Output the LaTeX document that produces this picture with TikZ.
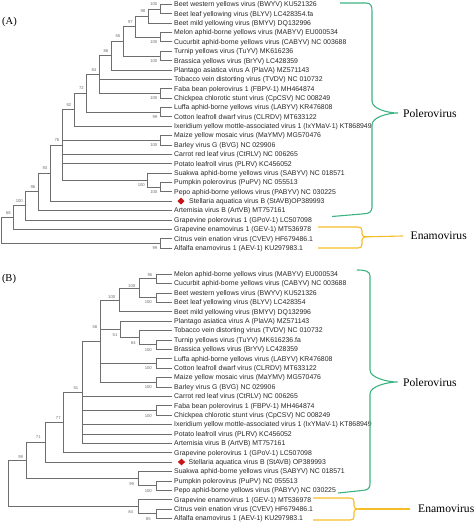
\documentclass[tikz,border=0pt]{standalone}
\usepackage{fontspec}
\setmainfont{Liberation Serif}
\newfontfamily\arialf{Liberation Sans}
\usetikzlibrary{calc,shapes.geometric}
\definecolor{brc}{RGB}{110,110,110}
\definecolor{txc}{RGB}{40,40,40}
\definecolor{pgreen}{RGB}{60,180,130}
\definecolor{eyel}{RGB}{245,190,40}
\definecolor{dred}{RGB}{200,20,20}
\tikzset{
 br/.style={draw=brc, line width=0.6pt, line cap=rect},
 leaf/.style={anchor=west, inner sep=0pt, text height=5pt, text depth=0pt, font=\arialf\fontsize{6.9}{8}\selectfont, text=txc},
 bs/.style={inner sep=0pt, font=\arialf\fontsize{4.2}{5}\selectfont, text=brc},
 cladename/.style={font=\fontsize{11.6}{13}\selectfont, anchor=west, inner sep=0pt},
 panel/.style={font=\fontsize{10.5}{12}\selectfont, inner sep=0pt},
 redmk/.style={diamond, fill=dred, minimum width=7.3pt, minimum height=7pt, inner sep=0pt},
 gbrace/.style={draw=pgreen, line width=1.1pt},
 ybrace/.style={draw=eyel, line width=1.1pt}
}
\newcommand\lf[3]{\coordinate (#1) at (172,#2); \node[leaf] (t#1) at (174,#2) {#3};}
\newcommand\mkclade[5]{%
  \path let \p1=($(#3)!.5!(#4)$) in (#2pt,\y1) coordinate (#1);
  \draw[br] (#1|-#3) -- (#1|-#4);
  \foreach \kid in {#5}{\draw[br] (#1|-\kid) -- (\kid);}}
\newcommand\bsa[2]{\node[bs,anchor=east] (bs-#1) at ([xshift=-2.5pt,yshift=4.8pt]#1) {#2};}
\newcommand\bsb[2]{\node[bs,anchor=east] (bs-#1) at ([xshift=-2.5pt,yshift=-4.8pt]#1) {#2};}
\begin{document}
\begin{tikzpicture}[x=1pt,y=-1pt]
\fill[white] (0,0) rectangle (474,523);
\useasboundingbox (0,0) rectangle (474,523);
% ---------------- (A) ----------------
\node[panel] (pA) at (9.5,22) {(A)};
\lf{la1}{4.30}{Beet western yellows virus (BWYV) KU521326}
\lf{la2}{13.67}{Beet leaf yellowing virus (BLYV) LC428354.fa}
\lf{la3}{23.04}{Beet mild yellowing virus (BMYV) DQ132996}
\lf{la4}{32.41}{Melon aphid-borne yellows virus (MABYV) EU000534}
\lf{la5}{41.78}{Cucurbit aphid-borne yellows virus (CABYV) NC 003688}
\lf{la6}{51.15}{Turnip yellows virus (TuYV) MK616236}
\lf{la7}{60.52}{Brassica yellows virus (BrYV) LC428359}
\lf{la8}{69.89}{Plantago asiatica virus A (PlaVA) MZ571143}
\lf{la9}{79.26}{Tobacco vein distorting virus (TVDV) NC 010732}
\lf{la10}{88.63}{Faba bean polerovirus 1 (FBPV-1) MH464874}
\lf{la11}{98.00}{Chickpea chlorotic stunt virus (CpCSV) NC 008249}
\lf{la12}{107.37}{Luffa aphid-borne yellows virus (LABYV) KR476808}
\lf{la13}{116.74}{Cotton leafroll dwarf virus (CLRDV) MT633122}
\lf{la14}{126.11}{Ixeridium yellow mottle-associated virus 1 (IxYMaV-1) KT868949}
\lf{la15}{135.48}{Maize yellow mosaic virus (MaYMV) MG570476}
\lf{la16}{144.85}{Barley virus G (BVG) NC 029906}
\lf{la17}{154.22}{Carrot red leaf virus (CtRLV) NC 006265}
\lf{la18}{163.59}{Potato leafroll virus (PLRV) KC456052}
\lf{la19}{172.96}{Suakwa aphid-borne yellows virus (SABYV) NC 018571}
\lf{la20}{182.33}{Pumpkin polerovirus (PuPV) NC 055513}
\lf{la21}{191.70}{Pepo aphid-borne yellows virus (PABYV) NC 030225}
\coordinate (la22) at (172,201.07);
\node[redmk] (dA) at (181,201.07) {};
\node[leaf] (tla22) at (189,201.07) {Stellaria aquatica virus B (StAVB)OP389993};
\lf{la23}{210.44}{Artemisia virus B (ArtVB) MT757161}
\lf{la24}{219.81}{Grapevine polerovirus 1 (GPoV-1) LC507098}
\lf{la25}{229.18}{Grapevine enamovirus 1 (GEV-1) MT536978}
\lf{la26}{238.55}{Citrus vein enation virus (CVEV) HF679486.1}
\lf{la27}{247.92}{Alfalfa enamovirus 1 (AEV-1) KU297983.1}
\mkclade{na}{160}{la1}{la2}{la1,la2}
\mkclade{nb}{148}{na}{la3}{na,la3}
\mkclade{nc}{160}{la4}{la5}{la4,la5}
\mkclade{nd}{135.5}{nb}{nc}{nb,nc}
\mkclade{ne}{160}{la6}{la7}{la6,la7}
\mkclade{nf}{123}{nd}{ne}{nd,ne}
\mkclade{ng}{111}{nf}{la8}{nf,la8}
\mkclade{nfb}{160}{la10}{la11}{la10,la11}
\mkclade{nh}{99}{ng}{nfb}{ng,la9,nfb}
\mkclade{nlc}{160}{la12}{la13}{la12,la13}
\mkclade{ni}{86.5}{nh}{nlc}{nh,nlc}
\mkclade{nj}{74}{ni}{la14}{ni,la14}
\mkclade{nmb}{160}{la15}{la16}{la15,la16}
\mkclade{npp}{160}{la20}{la21}{la20,la21}
\mkclade{nsq}{147.5}{la19}{npp}{la19,npp}
\mkclade{nk}{62}{nj}{nsq}{nj,nmb,la17,la18,nsq}
\mkclade{nl}{50}{nk}{la22}{nk,la22}
\mkclade{nm}{38}{nl}{la23}{nl,la23}
\mkclade{nn}{25.5}{nm}{la24}{nm,la24}
\mkclade{no}{13.5}{nn}{la25}{nn,la25}
\mkclade{ncv}{160}{la26}{la27}{la26,la27}
\mkclade{nroot}{1.2}{no}{ncv}{no,ncv}
\bsa{na}{100}\bsa{nb}{98}\bsb{nc}{100}\bsa{nd}{97}\bsb{ne}{100}\bsa{nf}{55}
\bsa{ng}{86}\bsa{nh}{84}\bsb{nfb}{100}\bsb{nlc}{99}\bsa{ni}{72}\bsa{nj}{82}
\bsb{nmb}{100}\bsb{nsq}{100}\bsb{npp}{100}\bsa{nk}{76}\bsa{nl}{93}\bsa{nm}{96}
\bsa{nn}{100}\bsa{no}{68}\bsb{ncv}{99}
% brackets A
\draw[gbrace] (340,3) -- (366,3) .. controls (371,3) and (372,6) .. (372,11) -- (372,101)
  .. controls (372,109) and (388,113) .. (398,113) .. controls (388,113) and (372,117) .. (372,125)
  -- (372,207) .. controls (372,212) and (369,213.5) .. (364,213.8) -- (332,216.5);
\node[cladename] (polA) at (403,114) {Polerovirus};
\draw[ybrace] (318,227) -- (358,227) .. controls (361,227) and (362,228) .. (362,231) -- (362,234)
  .. controls (362,236) and (364,236.8) .. (367,236.8) .. controls (364,236.8) and (362,237.6) .. (362,239.6)
  -- (362,244) .. controls (362,247) and (361,248) .. (358,248) -- (318,248);
\coordinate (ytipA) at (367,236.8);
\node[cladename] (enaA) at (410.5,236) {Enamovirus};
\draw[ybrace] (ytipA) -- (enaA.west -| 403,0);
% ---------------- (B) ----------------
\node[panel] (pB) at (9,278.7) {(B)};
\lf{lb1}{274.0}{Melon aphid-borne yellows virus (MABYV) EU000534}
\lf{lb2}{283.4}{Cucurbit aphid-borne yellows virus (CABYV) NC 003688}
\lf{lb3}{292.8}{Beet western yellows virus (BWYV) KU521326}
\lf{lb4}{302.2}{Beet leaf yellowing virus (BLYV) LC428354}
\lf{lb5}{311.6}{Beet mild yellowing virus (BMYV) DQ132996}
\lf{lb6}{321.0}{Plantago asiatica virus A (PlaVA) MZ571143}
\lf{lb7}{330.4}{Tobacco vein distorting virus (TVDV) NC 010732}
\lf{lb8}{339.8}{Turnip yellows virus (TuYV) MK616236.fa}
\lf{lb9}{349.2}{Brassica yellows virus (BrYV) LC428359}
\lf{lb10}{358.6}{Luffa aphid-borne yellows virus (LABYV) KR476808}
\lf{lb11}{368.0}{Cotton leafroll dwarf virus (CLRDV) MT633122}
\lf{lb12}{377.4}{Maize yellow mosaic virus (MaYMV) MG570476}
\lf{lb13}{386.8}{Barley virus G (BVG) NC 029906}
\lf{lb14}{396.2}{Carrot red leaf virus (CtRLV) NC 006265}
\lf{lb15}{405.6}{Faba bean polerovirus 1 (FBPV-1) MH464874}
\lf{lb16}{415.0}{Chickpea chlorotic stunt virus (CpCSV) NC 008249}
\lf{lb17}{424.4}{Ixeridium yellow mottle-associated virus 1 (IxYMaV-1) KT868949}
\lf{lb18}{433.8}{Potato leafroll virus (PLRV) KC456052}
\lf{lb19}{443.2}{Artemisia virus B (ArtVB) MT757161}
\lf{lb20}{452.6}{Grapevine polerovirus 1 (GPoV-1) LC507098}
\coordinate (lb21) at (172,462.0);
\node[redmk] (dB) at (181.5,462.0) {};
\node[leaf] (tlb21) at (188.5,462.0) {Stellaria aquatica virus B (StAVB) OP389993};
\lf{lb22}{471.4}{Suakwa aphid-borne yellows virus (SABYV) NC 018571}
\lf{lb23}{480.8}{Pumpkin polerovirus (PuPV) NC 055513}
\lf{lb24}{490.2}{Pepo aphid-borne yellows virus (PABYV) NC 030225}
\lf{lb25}{499.6}{Grapevine enamovirus 1 (GEV-1) MT536978}
\lf{lb26}{509.0}{Citrus vein enation virus (CVEV) HF679486.1}
\lf{lb27}{518.4}{Alfalfa enamovirus 1 (AEV-1) KU297983.1}
\mkclade{pb95}{156}{lb1}{lb2}{lb1,lb2}
\mkclade{pbc}{156}{lb3}{lb4}{lb3,lb4}
\mkclade{pba}{139}{pb95}{pbc}{pb95,pbc}
\mkclade{pbb}{119}{pba}{lb5}{pba,lb5}
\mkclade{pb89}{156}{lb8}{lb9}{lb8,lb9}
\mkclade{pb84}{139}{lb7}{pb89}{lb7,pb89}
\mkclade{pb51}{120}{lb6}{pb84}{lb6,pb84}
\mkclade{pb1011}{156}{lb10}{lb11}{lb10,lb11}
\mkclade{pb1213}{156}{lb12}{lb13}{lb12,lb13}
\mkclade{pb58}{100}{pbb}{pb1213}{pbb,pb51,pb1011,pb1213}
\mkclade{pb1516}{156}{lb15}{lb16}{lb15,lb16}
\mkclade{pb51b}{82.5}{pb58}{lb19}{pb58,lb14,pb1516,lb17,lb18,lb19}
\mkclade{pb77}{63.5}{pb51b}{lb20}{pb51b,lb20}
\mkclade{pb71}{45}{pb77}{lb21}{pb77,lb21}
\mkclade{pb2324}{156}{lb23}{lb24}{lb23,lb24}
\mkclade{pb99b}{138}{lb22}{pb2324}{lb22,pb2324}
\mkclade{pb99}{26.5}{pb71}{pb99b}{pb71,pb99b}
\mkclade{pb2627}{156}{lb26}{lb27}{lb26,lb27}
\mkclade{pb84b}{138}{lb25}{pb2627}{lb25,pb2627}
\mkclade{pbr}{8}{pb99}{pb84b}{pb99,pb84b}
\foreach \nm/\xx/\yy/\tt in {b1/150/275/95,b2/131.7/285.7/100,b3/111.7/296.7/100,b4/148.3/302.3/100,
  b5/95/327.3/58,b6/115/335/51,b7/133.3/342.7/84,b8/148.3/350/100,b9/148.3/368.3/100,b10/148.3/387.3/100,
  b11/76/388.3/51,b12/148.3/415.7/100,b13/58.3/418.3/77,b14/38.3/437.3/71,b15/20.7/457.3/99,
  b16/131.7/484/99,b17/148.3/491/100,b18/130.7/512.3/84,b19/148.3/519/85}
  {\node[bs] (bsB-\nm) at (\xx,\yy) {\tt};}
% brackets B
\draw[gbrace] (357,270) .. controls (365,270) and (370,271) .. (370,276) -- (370,370)
  .. controls (370,378) and (388,382) .. (397.5,382) .. controls (388,382) and (370,386) .. (370,394)
  -- (370,484) .. controls (370,489) and (367,490) .. (362,490.5) -- (338,493);
\node[cladename] (polB) at (403,383) {Polerovirus};
\draw[ybrace] (313,498) -- (350,498) .. controls (353,498) and (354,499) .. (354,502) -- (354,506)
  .. controls (354,508) and (355.5,509) .. (358,509) .. controls (355.5,509) and (354,510) .. (354,512)
  -- (354,516.5) .. controls (354,519) and (353,520) .. (350,520) -- (313,520);
\coordinate (ytipB) at (358,509);
\node[cladename] (enaB) at (418,509) {Enamovirus};
\draw[ybrace] (ytipB) -- (enaB.west -| 410,0);
\end{tikzpicture}
\end{document}
